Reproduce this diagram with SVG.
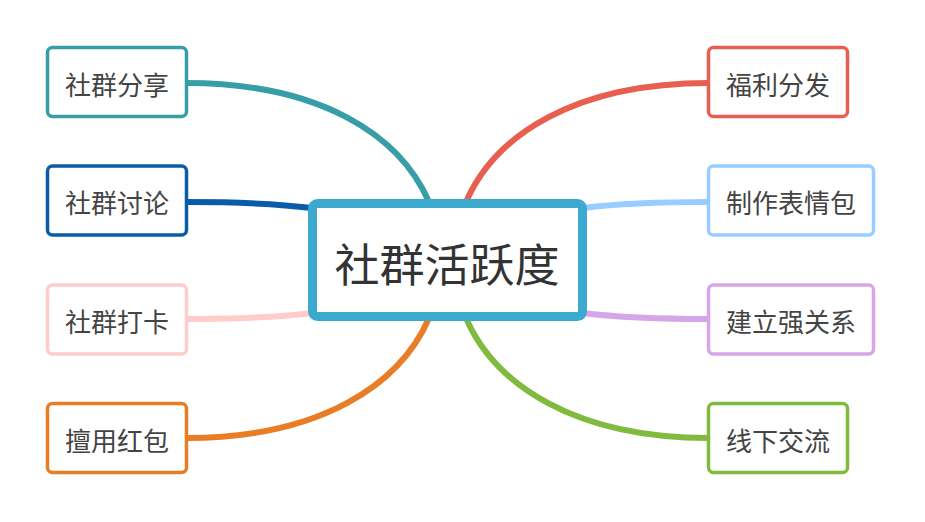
<svg xmlns="http://www.w3.org/2000/svg" width="925" height="522" viewBox="0 0 925 522">
<style>
.leaf rect{fill:#fff;stroke-width:3.5}
.leaf text{font-family:"Noto Sans CJK SC","Microsoft YaHei",sans-serif;font-size:26px;fill:#444;text-anchor:middle;dominant-baseline:central}
.conn path{fill:none;stroke-width:6;stroke-linecap:butt}
#center rect{fill:#fff;stroke:#3CA9CF;stroke-width:9}
#center text{font-family:"Noto Sans CJK SC","Microsoft YaHei",sans-serif;font-size:45px;fill:#333;text-anchor:middle;dominant-baseline:central}
</style>
<rect width="925" height="522" fill="#fff"/>
<g id="connectors" class="conn">
<path d="M186,83 C320,83 400,135 429,202" stroke="#379EA8"/>
<path d="M186,202 C240,202 280,204 312,208" stroke="#0A5CA8"/>
<path d="M186,319 C240,319 280,317 312,313" stroke="#FFCCCC"/>
<path d="M186,438 C320,438 400,385 429,318" stroke="#E87D25"/>
<path d="M709,83 C575,83 495,135 466,202" stroke="#E85E4F"/>
<path d="M709,202 C655,202 615,204 583,208" stroke="#99CCFF"/>
<path d="M709,319 C655,319 615,317 583,313" stroke="#D5A6E8"/>
<path d="M709,438 C575,438 495,385 466,318" stroke="#80BB40"/>
</g>
<g id="center">
<rect x="312.5" y="203.5" width="270" height="113" rx="5"/>
<text x="447" y="262">社群活跃度</text>
</g>
<g id="n1" class="leaf"><rect x="47.5" y="47.5" width="139" height="69" rx="5" stroke="#379EA8"/><text x="117" y="83">社群分享</text></g>
<g id="n2" class="leaf"><rect x="47.5" y="166" width="139" height="69" rx="5" stroke="#0A5CA8"/><text x="117" y="201.5">社群讨论</text></g>
<g id="n3" class="leaf"><rect x="47.5" y="285" width="139" height="69" rx="5" stroke="#FFCCCC"/><text x="117" y="320.5">社群打卡</text></g>
<g id="n4" class="leaf"><rect x="47.5" y="403.5" width="139" height="69" rx="5" stroke="#E87D25"/><text x="117" y="439">擅用红包</text></g>
<g id="n5" class="leaf"><rect x="708.5" y="47.5" width="139" height="69" rx="5" stroke="#E85E4F"/><text x="778" y="83">福利分发</text></g>
<g id="n6" class="leaf"><rect x="708.5" y="166" width="165" height="69" rx="5" stroke="#99CCFF"/><text x="791" y="201.5">制作表情包</text></g>
<g id="n7" class="leaf"><rect x="708.5" y="285" width="165" height="69" rx="5" stroke="#D5A6E8"/><text x="791" y="320.5">建立强关系</text></g>
<g id="n8" class="leaf"><rect x="708.5" y="403.5" width="139" height="69" rx="5" stroke="#80BB40"/><text x="778" y="439">线下交流</text></g>
</svg>
